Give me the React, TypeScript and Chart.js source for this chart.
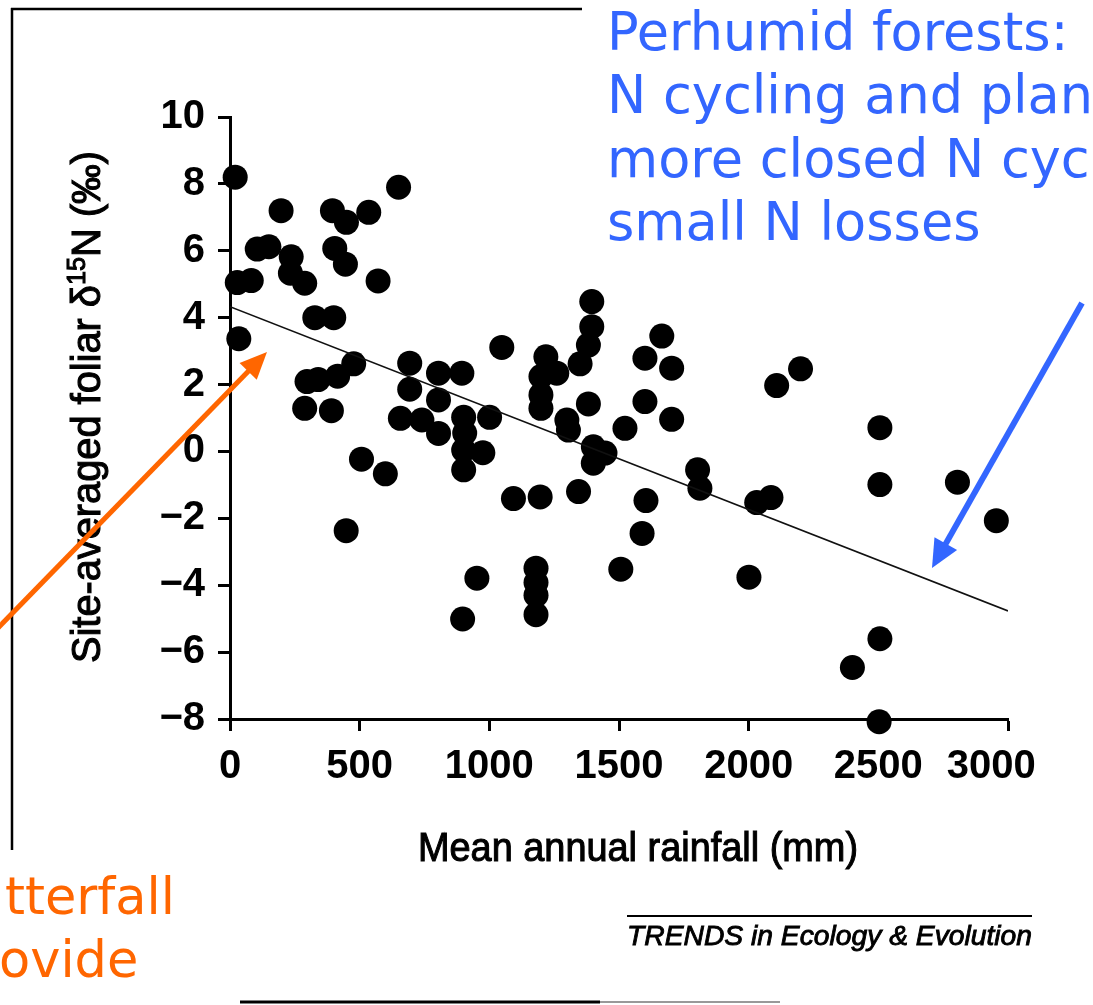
import React, { useEffect, useRef } from 'react';
import { Chart, registerables } from 'chart.js';

Chart.register(...registerables);

// Mean annual rainfall (mm)
const rainfall = [
  20, 650, 197, 395, 449, 535, 105, 150, 236, 233, 288, 404, 445, 571, 28, 82,
  327, 400, 34, 297, 340, 415, 477, 288, 391, 507, 599, 448, 693, 693, 657, 740,
  804, 804, 804, 894, 901, 905, 901, 975, 901, 1001, 952, 897, 1048, 1093, 1196,
  1344, 1180, 1180, 1180, 1180, 1218, 1199, 1260, 1199, 1199, 1350, 1382, 1395,
  1395, 1382, 1299, 1305, 1401, 1446, 1401, 1523, 1507, 1600, 1600, 1665, 1703,
  1703, 1604, 1589, 1803, 1812, 2001, 2031, 2086, 2108, 2200, 2506, 2506, 2805,
  2955, 2506, 2400, 2503,
];
// Site-averaged foliar d15N (per mil)
const delta15N = [
  8.2, 7.9, 7.2, 7.2, 6.85, 7.15, 6.05, 6.12, 5.82, 5.33, 5.03, 6.07, 5.6, 5.1, 5.05, 5.11,
  4.0, 4.0, 3.37, 2.09, 2.15, 2.25, 2.62, 1.29, 1.22, -0.23, -0.67, -2.37, 2.64, 1.86, 0.99, 0.94,
  2.34, 1.54, 0.54, 2.34, 1.02, 0.55, 0.04, -0.04, -0.55, 1.02, -3.79, -5.01, 3.11, -1.41, -1.36,
  -1.2, -3.49, -3.92, -4.3, -4.88, 2.83, 2.24, 2.34, 1.69, 1.29, 2.62, 3.18, 3.73,
  4.48, 1.42, 0.94, 0.64, 0.14, -0.05, -0.35, 0.69, -3.52, 2.79, 1.49, 3.45, 2.49,
  0.96, -1.47, -2.45, -0.55, -1.1, -3.76, -1.53, -1.38, 1.97, 2.47, 0.71, -0.99, -0.92,
  -2.07, -5.6, -6.46, -8.08,
];
// Regression line end points
const trendX = [0, 3000];
const trendY = [4.33, -4.77];

const xTicks = [0, 500, 1000, 1500, 2000, 2500, 3000];
const xTickLabels = ['0', '500', '1000', '1500', '2000', '2500', '3000\u00a0\u00a0\u00a0'];
const yTicks = [-8, -6, -4, -2, 0, 2, 4, 6, 8, 10];

const xTitle = 'Mean annual rainfall (mm)';
const yTitleParts = ['Site-averaged foliar \u03b4', '15', 'N (\u2030)'];
const blueLines = ['Perhumid forests:', 'N cycling and plan', 'more closed N cyc', 'small N losses'];
const orangeLines = ['tterfall', 'ovide'];
const credit = 'TRENDS in Ecology & Evolution';

const BLUE = '#3366ff';
const ORANGE = '#ff6600';
const SANS = '"Liberation Sans", Arial, sans-serif';
const DEJAVU = '"DejaVu Sans", Verdana, sans-serif';

function drawArrow(ctx: CanvasRenderingContext2D, x0: number, y0: number, x1: number, y1: number,
  color: string, lw: number, headLen: number, headHalf: number) {
  const dx = x1 - x0;
  const dy = y1 - y0;
  const len = Math.hypot(dx, dy);
  const ux = dx / len;
  const uy = dy / len;
  const bx = x1 - ux * headLen;
  const by = y1 - uy * headLen;
  ctx.save();
  ctx.strokeStyle = color;
  ctx.fillStyle = color;
  ctx.lineWidth = lw;
  ctx.lineCap = 'butt';
  ctx.beginPath();
  ctx.moveTo(x0, y0);
  ctx.lineTo(bx + ux * 2, by + uy * 2);
  ctx.stroke();
  ctx.beginPath();
  ctx.moveTo(x1, y1);
  ctx.lineTo(bx - uy * headHalf, by + ux * headHalf);
  ctx.lineTo(bx + uy * headHalf, by - ux * headHalf);
  ctx.closePath();
  ctx.fill();
  ctx.restore();
}

function fitText(ctx: CanvasRenderingContext2D, text: string, x: number, y: number, targetW: number, center: boolean, strokeW = 0) {
  const w = ctx.measureText(text).width;
  const s = targetW / w;
  ctx.save();
  ctx.translate(center ? x - targetW / 2 : x, y);
  ctx.scale(s, 1);
  ctx.textAlign = 'left';
  ctx.fillText(text, 0, 0);
  if (strokeW > 0) {
    ctx.lineWidth = strokeW;
    ctx.strokeText(text, 0, 0);
  }
  ctx.restore();
}

const overlayPlugin = {
  id: 'overlay',
  beforeDraw(chart: any) {
    const ctx = chart.ctx as CanvasRenderingContext2D;
    ctx.save();
    ctx.fillStyle = '#ffffff';
    ctx.fillRect(0, 0, chart.width, chart.height);
    ctx.restore();
  },
  afterDraw(chart: any) {
    const ctx = chart.ctx as CanvasRenderingContext2D;
    ctx.save();
    ctx.textBaseline = 'alphabetic';

    // scanned page edges
    ctx.strokeStyle = '#000';
    ctx.lineWidth = 2.5;
    ctx.beginPath();
    ctx.moveTo(11, 9);
    ctx.lineTo(582, 9);
    ctx.moveTo(12, 8);
    ctx.lineTo(12, 850);
    ctx.stroke();
    ctx.lineWidth = 3;
    ctx.beginPath();
    ctx.moveTo(240, 1002);
    ctx.lineTo(600, 1002);
    ctx.stroke();
    ctx.strokeStyle = '#999';
    ctx.lineWidth = 2;
    ctx.beginPath();
    ctx.moveTo(600, 1002);
    ctx.lineTo(780, 1002);
    ctx.stroke();

    // x axis title
    ctx.fillStyle = '#000';
    ctx.strokeStyle = '#000';
    ctx.font = `41px ${SANS}`;
    fitText(ctx, xTitle, 638, 861, 440, true, 1.1);

    // y axis title (rotated, with superscript)
    ctx.save();
    ctx.translate(100, 407);
    ctx.rotate(-Math.PI / 2);
    const big = `41px ${SANS}`;
    const small = `26px ${SANS}`;
    ctx.font = big;
    const w0 = ctx.measureText(yTitleParts[0]).width;
    const w2 = ctx.measureText(yTitleParts[2]).width;
    ctx.font = small;
    const w1 = ctx.measureText(yTitleParts[1]).width;
    const total = w0 + w1 + w2;
    const s = 512 / total;
    ctx.scale(s, 1);
    let cx = -total / 2;
    ctx.lineWidth = 1.1;
    ctx.font = big;
    ctx.fillText(yTitleParts[0], cx, 0);
    ctx.strokeText(yTitleParts[0], cx, 0);
    cx += w0;
    ctx.font = small;
    ctx.fillText(yTitleParts[1], cx, -15);
    ctx.strokeText(yTitleParts[1], cx, -15);
    cx += w1;
    ctx.font = big;
    ctx.fillText(yTitleParts[2], cx, 0);
    ctx.strokeText(yTitleParts[2], cx, 0);
    ctx.restore();

    // credit line
    ctx.lineWidth = 2;
    ctx.beginPath();
    ctx.moveTo(627, 916);
    ctx.lineTo(1032, 916);
    ctx.stroke();
    ctx.font = `italic 28px ${SANS}`;
    fitText(ctx, credit, 627, 945, 405, false, 0.9);

    // blue annotation
    ctx.fillStyle = BLUE;
    ctx.font = `52.5px ${DEJAVU}`;
    const blueBase = [50, 113, 176.5, 240];
    blueLines.forEach((t, i) => ctx.fillText(t, 607, blueBase[i]));

    // orange annotation
    ctx.fillStyle = ORANGE;
    ctx.font = `51px ${DEJAVU}`;
    ctx.fillText(orangeLines[0], 5, 914);
    ctx.fillText(orangeLines[1], -1, 977);

    // arrows
    drawArrow(ctx, -5, 631, 267, 352, ORANGE, 5, 27, 12);
    drawArrow(ctx, 1082, 303, 932, 568, BLUE, 6, 28, 13);

    ctx.restore();
  },
};

export default function App() {
  const canvasRef = useRef<HTMLCanvasElement | null>(null);

  useEffect(() => {
    const canvas = canvasRef.current;
    if (!canvas) return;
    const points = rainfall.map((x, i) => ({ x, y: delta15N[i] }));
    const trend = trendX.map((x, i) => ({ x, y: trendY[i] }));

    const tickFont = { family: SANS, size: 40, weight: 'bold' as const };

    const chart = new Chart(canvas, {
      type: 'scatter',
      data: {
        datasets: [
          {
            type: 'line',
            data: trend,
            borderColor: '#111',
            borderWidth: 1.6,
            pointRadius: 0,
            fill: false,
          } as any,
          {
            type: 'scatter',
            data: points,
            backgroundColor: '#000',
            borderWidth: 0,
            pointRadius: 12.5,
            pointHoverRadius: 12.5,
            clip: false,
          } as any,
        ],
      },
      options: {
        responsive: false,
        animation: false,
        devicePixelRatio: 1,
        events: [],
        layout: { padding: { left: 0, right: 85, top: 117, bottom: 0 } },
        plugins: {
          legend: { display: false },
          tooltip: { enabled: false },
          title: { display: false },
        },
        scales: {
          x: {
            type: 'linear',
            min: 0,
            max: 3000,
            afterFit: (scale: any) => { scale.height = 286; },
            afterBuildTicks: (scale: any) => { scale.ticks = xTicks.map((v) => ({ value: v })); },
            border: { display: true, color: '#000', width: 3 },
            grid: { drawOnChartArea: false, drawTicks: true, tickLength: 12, tickWidth: 3, tickColor: '#000' },
            ticks: {
              autoSkip: false,
              maxRotation: 0,
              color: '#000',
              padding: 12,
              font: tickFont,
              callback: (v: any) => {
                const i = xTicks.indexOf(Number(v));
                return i >= 0 ? xTickLabels[i] : String(v);
              },
            },
          },
          y: {
            type: 'linear',
            min: -8,
            max: 10,
            afterFit: (scale: any) => { scale.width = 230; },
            afterBuildTicks: (scale: any) => { scale.ticks = yTicks.map((v) => ({ value: v })); },
            border: { display: true, color: '#000', width: 3 },
            grid: { drawOnChartArea: false, drawTicks: true, tickLength: 12, tickWidth: 3, tickColor: '#000' },
            ticks: {
              autoSkip: false,
              color: '#000',
              padding: 13,
              font: tickFont,
              callback: (v: any) => (Number(v) < 0 ? '\u2212' + Math.abs(Number(v)) : String(v)),
            },
          },
        },
      },
      plugins: [overlayPlugin],
    });

    return () => {
      chart.destroy();
    };
  }, []);

  return (
    <div style={{ position: 'absolute', left: 0, top: 0, width: 1093, height: 1005, background: '#fff' }}>
      <canvas ref={canvasRef} width={1093} height={1005} style={{ display: 'block', width: 1093, height: 1005 }} />
    </div>
  );
}
